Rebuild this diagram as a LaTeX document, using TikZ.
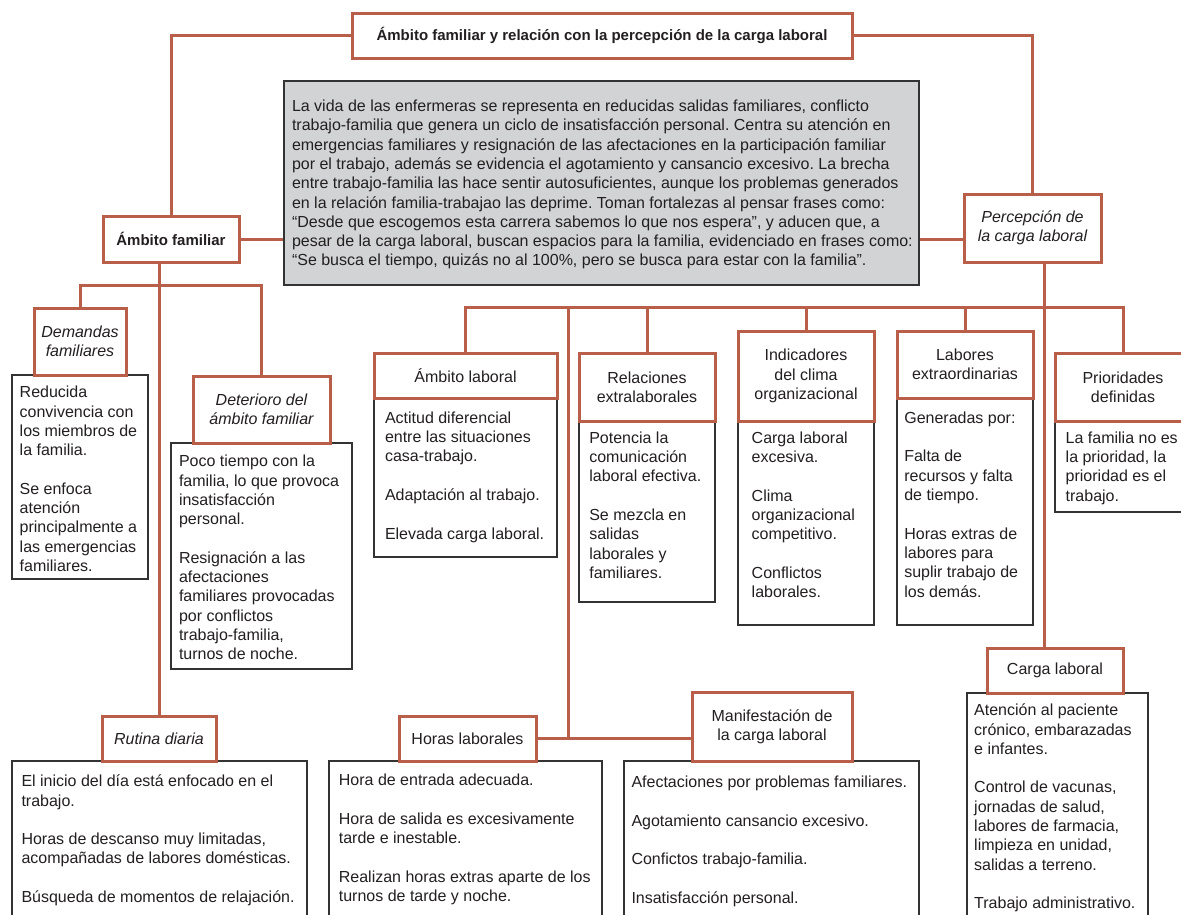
\documentclass[tikz,border=0pt]{standalone}
\usepackage{fontspec}
\setmainfont{Liberation Sans}
\usetikzlibrary{backgrounds}
\frenchspacing
\definecolor{rust}{RGB}{185,94,72}
\definecolor{ink}{RGB}{35,31,32}
\definecolor{panel}{RGB}{209,211,212}
\definecolor{frame}{RGB}{51,51,51}
\newcommand{\fsbody}{\fontsize{16}{19.3}\selectfont}
\newcommand{\fsbold}{\fontsize{15}{19.3}\selectfont\bfseries}
\newcommand{\firststrut}{\rule{0pt}{15pt}}
\begin{document}
\begin{tikzpicture}[x=1pt,y=-1pt,
  hdr/.style={draw=rust, line width=3pt, fill=white, align=center, inner sep=0pt, outer sep=0pt, text=ink, font=\fsbody, anchor=north west},
  cbox/.style={draw=frame, line width=1.5pt, fill=white, inner sep=0pt, outer sep=0pt, anchor=north west},
  btext/.style={align=left, inner sep=0pt, outer sep=0pt, text=ink, font=\fsbody, anchor=north west},
  link/.style={draw=rust, line width=3pt},
]
\useasboundingbox (0,0) rectangle (1181,914);
\clip (0,0) rectangle (1181,914);

% ---------- top level ----------
\node[hdr, minimum width=500pt, minimum height=45pt, font=\fsbold] (title) at (352,13)
  {Ámbito familiar y relación con la percepción de la carga laboral};
\node[hdr, minimum width=136pt, minimum height=46pt, font=\fsbold] (amf) at (103,216) {Ámbito familiar};
\node[draw=frame, fill=panel, line width=2pt, inner sep=0pt, outer sep=0pt, anchor=north west,
  minimum width=635pt, minimum height=204pt] (grey) at (284,81) {};
\node[btext] (greytext) at (292,96.5) {\firststrut La vida de las enfermeras se representa en reducidas salidas familiares, conflicto\\
trabajo-familia que genera un ciclo de insatisfacción personal. Centra su atención en\\
emergencias familiares y resignación de las afectaciones en la participación familiar\\
por el trabajo, además se evidencia el agotamiento y cansancio excesivo. La brecha\\
entre trabajo-familia las hace sentir autosuficientes, aunque los problemas generados\\
en la relación familia-trabajao las deprime. Toman fortalezas al pensar frases como:\\
“Desde que escogemos esta carrera sabemos lo que nos espera”, y aducen que, a\\
pesar de la carga laboral, buscan espacios para la familia, evidenciado en frases como:\\
“Se busca el tiempo, quizás no al 100\%, pero se busca para estar con la familia”.};
\node[hdr, minimum width=137pt, minimum height=68pt, font=\fsbody\itshape] (perc) at (964,194)
  {Percepción de\\la carga laboral};

% ---------- family side ----------
\node[cbox, minimum width=136pt, minimum height=204pt] (demC) at (12,375) {};
\node[hdr, minimum width=92pt, minimum height=67pt, font=\fsbody\itshape] (dem) at (34,308) {Demandas\\familiares};
\node[btext] (demT) at (19.7,382.7) {\firststrut Reducida\\convivencia con\\los miembros de\\la familia.\\[19.3pt]
Se enfoca\\atención\\principalmente a\\las emergencias\\familiares.};

\node[cbox, minimum width=181pt, minimum height=226pt] (detC) at (171,443) {};
\node[hdr, minimum width=137pt, minimum height=67pt, font=\fsbody\itshape] (det) at (193,376) {Deterioro del\\ámbito familiar};
\node[btext] (detT) at (179,451.7) {\firststrut Poco tiempo con la\\familia, lo que provoca\\insatisfacción\\personal.\\[19.3pt]
Resignación a las\\afectaciones\\familiares provocadas\\por conflictos\\trabajo-familia,\\turnos de noche.};

\node[cbox, minimum width=295pt, minimum height=170pt] (rutC) at (12,761) {};
\node[hdr, minimum width=114pt, minimum height=45pt, font=\fsbody\itshape] (rut) at (102,716) {Rutina diaria};
\node[btext] (rutT) at (21.5,771.7) {\firststrut El inicio del día está enfocado en el\\trabajo.\\[19.3pt]
Horas de descanso muy limitadas,\\acompañadas de labores domésticas.\\[19.3pt]
Búsqueda de momentos de relajación.};

% ---------- work side ----------
\node[cbox, minimum width=183pt, minimum height=159pt] (amlabC) at (374,398) {};
\node[hdr, minimum width=183pt, minimum height=45pt] (amlab) at (374,353) {Ámbito laboral};
\node[btext] (amlabT) at (385,408.3) {\firststrut Actitud diferencial\\entre las situaciones\\casa-trabajo.\\[19.3pt]
Adaptación al trabajo.\\[19.3pt]Elevada carga laboral.};

\node[cbox, minimum width=136pt, minimum height=181pt] (relC) at (579,421) {};
\node[hdr, minimum width=136pt, minimum height=68pt] (rel) at (579,353) {Relaciones\\extralaborales};
\node[btext] (relT) at (589.3,428.3) {\firststrut Potencia la\\comunicación\\laboral efectiva.\\[19.3pt]
Se mezcla en\\salidas\\laborales y\\familiares.};

\node[cbox, minimum width=136pt, minimum height=204pt] (indC) at (738,421) {};
\node[hdr, minimum width=136pt, minimum height=90pt] (ind) at (738,331) {Indicadores\\del clima\\organizacional};
\node[btext] (indT) at (751.7,428.3) {\firststrut Carga laboral\\excesiva.\\[19.3pt]
Clima\\organizacional\\competitivo.\\[19.3pt]Conflictos\\laborales.};

\node[cbox, minimum width=136pt, minimum height=227pt] (labC) at (897,398) {};
\node[hdr, minimum width=136pt, minimum height=67pt] (lab) at (897,331) {Labores\\extraordinarias};
\node[btext] (labT) at (904.3,408.3) {\firststrut Generadas por:\\[19.3pt]
Falta de\\recursos y falta\\de tiempo.\\[19.3pt]
Horas extras de\\labores para\\suplir trabajo de\\los demás.};

\node[cbox, minimum width=136pt, minimum height=91pt] (priC) at (1055,421) {};
\node[hdr, minimum width=136pt, minimum height=68pt] (pri) at (1055,353) {Prioridades\\definidas};
\node[btext] (priT) at (1065.7,428.3) {\firststrut La familia no es\\la prioridad, la\\prioridad es el\\trabajo.};

\node[cbox, minimum width=273pt, minimum height=170pt] (horC) at (329,761) {};
\node[hdr, minimum width=137pt, minimum height=45pt] (hor) at (399,716) {Horas laborales};
\node[btext] (horT) at (338.9,770.7) {\firststrut Hora de entrada adecuada.\\[19.3pt]
Hora de salida es excesivamente\\tarde e inestable.\\[19.3pt]
Realizan horas extras aparte de los\\turnos de tarde y noche.};

\node[cbox, minimum width=295pt, minimum height=170pt] (manC) at (624,761) {};
\node[hdr, minimum width=160pt, minimum height=69pt] (man) at (692,692) {Manifestación de\\la carga laboral};
\node[btext] (manT) at (631.5,772.7) {\firststrut Afectaciones por problemas familiares.\\[19.3pt]
Agotamiento cansancio excesivo.\\[19.3pt]Confictos trabajo-familia.\\[19.3pt]Insatisfacción personal.};

\node[cbox, minimum width=181pt, minimum height=240pt] (carC) at (967,693) {};
\node[hdr, minimum width=136pt, minimum height=45pt] (car) at (987,648) {Carga laboral};
\node[btext] (carT) at (974.2,700.7) {\firststrut Atención al paciente\\crónico, embarazadas\\e infantes.\\[19.3pt]
Control de vacunas,\\jornadas de salud,\\labores de farmacia,\\limpieza en unidad,\\salidas a terreno.\\[19.3pt]
Trabajo administrativo.};

% ---------- connectors ----------
\begin{scope}[on background layer]
\coordinate (fbus) at (159,285);
\coordinate (lbus) at (1044,307.5);
\coordinate (mid) at (568,307.5);
\draw[link] (title.west) -| (amf.north);
\draw[link] (title.east) -| (perc.north);
\draw[link] (amf.east) -- (amf.east -| grey.west);
\draw[link] (grey.east |- amf.east) -- (perc.west |- amf.east);
\draw[link] (amf.south -| rut.north) -- (rut.north);
\draw[link] (dem.north) |- (fbus) -| (det.north);
\draw[link] (perc.south -| lbus) -- (car.north -| lbus);
\draw[link] (amlab.north) |- (lbus) -| (pri.north);
\draw[link] (rel.north) -- (rel.north |- lbus);
\draw[link] (ind.north) -- (ind.north |- lbus);
\draw[link] (lab.north) -- (lab.north |- lbus);
\draw[link] (mid) -- (mid |- hor.east);
\draw[link] (hor.east) -- (hor.east -| man.west);
\end{scope}
\end{tikzpicture}
\end{document}
